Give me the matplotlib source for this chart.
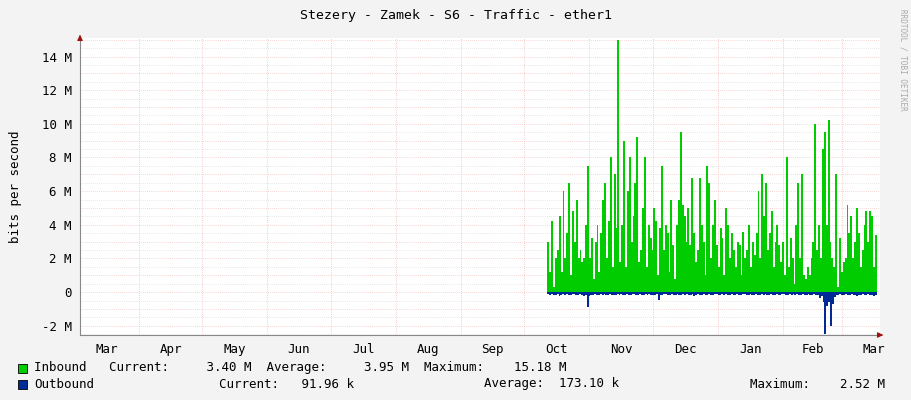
import matplotlib
matplotlib.use("Agg")
import matplotlib.pyplot as plt
import numpy as np

month_labels = ["Mar", "Apr", "May", "Jun", "Jul", "Aug", "Sep", "Oct", "Nov", "Dec", "Jan", "Feb", "Mar"]
month_starts = [-3, 28, 58, 89, 119, 150, 181, 211, 242, 272, 303, 334, 362, 392]

data_start = 222.0
inbound = [3.0, 1.2, 4.2, 0.3, 2.0, 2.5, 4.5, 1.2, 6.0, 2.0, 3.5, 6.5, 1.0, 4.8, 3.0, 5.5, 2.0, 2.5,
           1.8, 2.0, 4.0, 7.5, 2.0, 3.2, 0.8, 3.0, 4.0, 1.2, 3.5, 5.5, 6.5, 2.0, 4.2, 8.0, 1.5, 7.0,
           3.8, 15.0, 1.8, 4.0, 9.0, 1.5, 6.0, 8.0, 3.0, 4.5, 6.5, 9.2, 1.8, 2.5, 5.0, 8.0, 1.5, 4.0,
           3.2, 2.5, 5.0, 4.2, 1.0, 3.8, 7.5, 2.5, 4.0, 3.5, 1.2, 5.5, 2.8, 0.8, 4.0, 5.5, 9.5, 5.2,
           4.5, 3.0, 5.0, 2.8, 6.8, 3.5, 1.8, 2.5, 6.8, 4.0, 3.0, 1.0, 7.5, 6.5, 2.0, 4.0, 5.5, 2.8,
           1.5, 3.8, 3.2, 1.0, 5.0, 4.0, 2.0, 3.5, 2.5, 1.5, 3.0, 2.8, 1.0, 3.6, 2.0, 2.5, 4.0, 1.5,
           3.0, 2.2, 3.5, 6.0, 2.0, 7.0, 4.5, 6.5, 2.5, 3.5, 4.8, 1.5, 3.0, 4.0, 2.8, 1.8, 3.0, 1.0,
           8.0, 1.5, 3.2, 2.0, 0.5, 4.0, 6.5, 2.0, 7.0, 1.0, 0.8, 1.5, 1.0, 2.0, 3.0, 10.0, 2.5, 4.0,
           2.0, 8.5, 9.5, 4.0, 10.2, 3.0, 2.0, 1.5, 7.0, 0.3, 3.2, 1.2, 1.8, 2.0, 5.2, 3.5, 4.5, 2.0,
           3.0, 5.0, 3.5, 1.5, 2.5, 4.0, 4.8, 3.0, 4.8, 4.5, 1.5, 3.4]
outbound = [-0.10, -0.18, -0.12, -0.20, -0.15, -0.10, -0.22, -0.15, -0.12, -0.18, -0.10, -0.15,
            -0.20, -0.12, -0.10, -0.15, -0.18, -0.12, -0.15, -0.25, -0.20, -0.90, -0.25, -0.15,
            -0.18, -0.12, -0.15, -0.20, -0.10, -0.15, -0.12, -0.18, -0.15, -0.12, -0.20, -0.15,
            -0.18, -0.12, -0.15, -0.10, -0.20, -0.15, -0.12, -0.18, -0.15, -0.10, -0.12, -0.15,
            -0.20, -0.12, -0.15, -0.18, -0.10, -0.15, -0.12, -0.18, -0.15, -0.20, -0.12, -0.45,
            -0.18, -0.15, -0.12, -0.10, -0.15, -0.18, -0.12, -0.15, -0.20, -0.12, -0.15, -0.18,
            -0.10, -0.15, -0.12, -0.18, -0.15, -0.10, -0.25, -0.15, -0.12, -0.18, -0.15, -0.10,
            -0.20, -0.15, -0.12, -0.18, -0.15, -0.12, -0.10, -0.15, -0.18, -0.12, -0.15, -0.10,
            -0.18, -0.15, -0.12, -0.20, -0.15, -0.12, -0.18, -0.15, -0.10, -0.12, -0.15, -0.18,
            -0.12, -0.15, -0.20, -0.12, -0.15, -0.18, -0.10, -0.15, -0.12, -0.18, -0.15, -0.12,
            -0.20, -0.15, -0.12, -0.18, -0.15, -0.12, -0.10, -0.15, -0.18, -0.12, -0.15, -0.10,
            -0.15, -0.12, -0.18, -0.15, -0.12, -0.20, -0.15, -0.12, -0.18, -0.15, -0.10, -0.20,
            -0.20, -0.35, -0.25, -0.60, -2.50, -0.80, -0.60, -2.00, -0.70, -0.30, -0.20, -0.15,
            -0.12, -0.18, -0.15, -0.12, -0.20, -0.15, -0.12, -0.18, -0.15, -0.25, -0.20, -0.15,
            -0.12, -0.18, -0.15, -0.12, -0.20, -0.15, -0.25, -0.18]

FS = 9
fig = plt.figure(figsize=(9.11, 4.0), dpi=100, facecolor="#f3f3f3")
ax = fig.add_axes([80/911, 65/400, 800/911, 297/400])
ax.set_facecolor("white")
xmin, xmax = 0, 380
ymin, ymax = -2.55, 15.1
data_end = 378.5

def xs(n):
    return data_start + np.arange(n + 1) * (data_end - data_start) / n

yi = np.array(inbound + [inbound[-1]])
yo = np.array(outbound + [outbound[-1]])
ax.fill_between(xs(len(inbound)), 0, yi, step="post", color="#00cc00", lw=0)
ax.fill_between(xs(len(outbound)), 0, yo, step="post", color="#002a97", lw=0)

for v in np.arange(-2.5, 15.1, 0.5):
    if abs(v - round(v)) < 1e-6:
        ax.axhline(v, color="#f0b0b0", lw=0.5, ls=(0, (1, 2)), zorder=0.5)
    else:
        ax.axhline(v, color="#d0d0d0", lw=0.5, ls=(0, (1, 2)), zorder=0.5)
for m in month_starts[1:-1]:
    ax.axvline(m, color="#f0a0a0", lw=0.5, ls=(0, (1, 2)), zorder=0.5)

ax.set_xlim(xmin, xmax)
ax.set_ylim(ymin, ymax)
yt = [-2, 0, 2, 4, 6, 8, 10, 12, 14]
ax.set_yticks(yt)
ax.set_yticklabels([f"{v} M" if v != 0 else "0" for v in yt], family="DejaVu Sans Mono", fontsize=FS)
centers = [(month_starts[i] + month_starts[i+1]) / 2 for i in range(len(month_labels))]
ax.set_xticks(centers)
ax.set_xticklabels(month_labels, family="DejaVu Sans Mono", fontsize=FS)
ax.tick_params(length=0, pad=6)
for s in ["top", "right"]:
    ax.spines[s].set_visible(False)
ax.spines["left"].set_color("#888888")
ax.spines["bottom"].set_color("#888888")
ax.set_ylabel("bits per second", family="DejaVu Sans Mono", fontsize=FS, labelpad=14)
ax.annotate("", xy=(886/911, 65/400), xytext=(878/911, 65/400), xycoords="figure fraction",
            arrowprops=dict(arrowstyle="-|>", color="#a01010", lw=0.8, mutation_scale=8))
ax.annotate("", xy=(80/911, 368/400), xytext=(80/911, 360/400), xycoords="figure fraction",
            arrowprops=dict(arrowstyle="-|>", color="#a01010", lw=0.8, mutation_scale=8))

fig.text(0.5, 1 - 15/400, "Stezery - Zamek - S6 - Traffic - ether1", ha="center", va="center",
         family="DejaVu Sans Mono", fontsize=9.5)
fig.text(903/911, 1 - 60/400, "RRDTOOL / TOBI OETIKER", rotation=270, ha="center", va="center",
         family="DejaVu Sans Mono", fontsize=5.5, color="#aaaaaa")

mono = dict(family="DejaVu Sans Mono", fontsize=FS, va="center")
fig.add_artist(plt.Rectangle((18/911, 1 - 373/400), 9/911, 9/400, transform=fig.transFigure,
                             facecolor="#00cc00", edgecolor="black", lw=0.6))
fig.add_artist(plt.Rectangle((18/911, 1 - 389/400), 9/911, 9/400, transform=fig.transFigure,
                             facecolor="#002a97", edgecolor="black", lw=0.6))
fig.text(34/911, 1 - 368/400, "Inbound   Current:     3.40 M  Average:     3.95 M  Maximum:    15.18 M", **mono)
fig.text(34/911, 1 - 384/400, "Outbound", **mono)
fig.text(219/911, 1 - 384/400, "Current:   91.96 k", **mono)
fig.text(484/911, 1 - 384/400, "Average:  173.10 k", **mono)
fig.text(750/911, 1 - 384/400, "Maximum:    2.52 M", **mono)

fig.savefig("out.png", dpi=100, facecolor=fig.get_facecolor())
